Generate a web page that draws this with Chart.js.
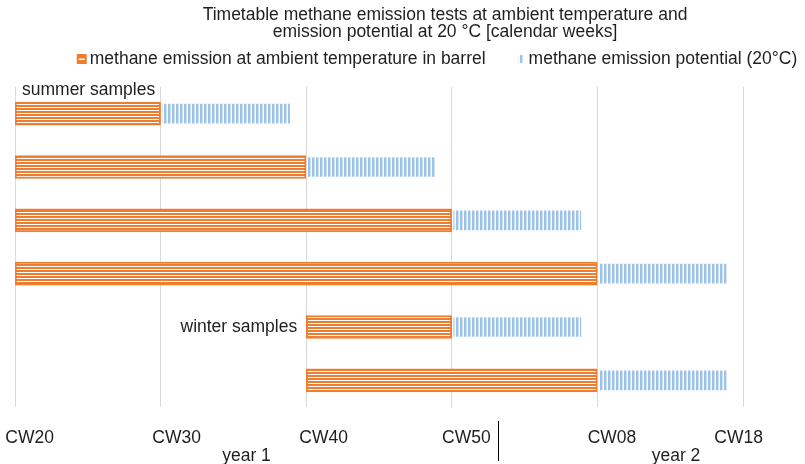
<!DOCTYPE html>
<html><head><meta charset="utf-8">
<script src="https://cdn.jsdelivr.net/npm/chart.js@4.4.1/dist/chart.umd.min.js"></script>
<style>html,body{margin:0;padding:0;background:#fff}#wrap{width:805px;height:464px;position:relative}</style>
</head><body><div id="wrap"><canvas id="c" width="805" height="464"></canvas></div>
<script>
// ---- data ----
const rows = ['summer 1','summer 2','summer 3','summer 4','winter 1','winter 2'];
const ambientStart = [20, 20, 20, 20, 40, 40];
const ambientEnd   = [30, 40, 50, 60, 50, 60];
const potentialStart = [30, 40, 50, 60, 50, 60];
const potentialEnd   = [39, 49, 59, 69, 59, 69];
const tickLabels = ['CW20','CW30','CW40','CW50','CW08','CW18'];
const tickLabelWeeks = [21.0, 31.1, 41.2, 51.0, 61.0, 69.7];
const yearLabels = ['year 1','year 2'];
const yearLabelWeeks = [35.9, 65.4];
const yearDividerWeek = 53.2;
const seriesNames = ['methane emission at ambient temperature in barrel','methane emission potential (20°C)'];
const titleLines = ['Timetable methane emission tests at ambient temperature and','emission potential at 20 °C [calendar weeks]'];
const noteSummer = 'summer samples';
const noteWinter = 'winter samples';

// ---- styles ----
const FONT = '"Liberation Sans", Arial, sans-serif';
const FS = 17.5;
const TXT = '#1f1f1f';
const ORANGE = '#ED7D31';

const canvas = document.getElementById('c');
const ctx0 = canvas.getContext('2d');
function makePattern(w, h, draw) {
  const c = document.createElement('canvas'); c.width = w; c.height = h;
  draw(c.getContext('2d'));
  return ctx0.createPattern(c, 'repeat');
}
const orangePat = makePattern(1, 3, g => {
  g.fillStyle = '#ffffff'; g.fillRect(0, 0, 1, 3);
  g.fillStyle = ORANGE; g.fillRect(0, 0, 1, 2);
});
const bluePat = makePattern(4, 1, g => {
  g.fillStyle = '#ffffff'; g.fillRect(0, 0, 4, 1);
  g.fillStyle = '#9DC3E6'; g.fillRect(0, 0, 2, 1);
  g.fillStyle = '#cfe2f3'; g.fillRect(2, 0, 1, 1);
});

const decor = {
  id: 'decor',
  afterDatasetsDraw(chart) {
    const ctx = chart.ctx, xs = chart.scales.x, ys = chart.scales.y;
    ctx.save();
    ctx.font = FS + 'px ' + FONT;
    ctx.textBaseline = 'middle';
    // summer note with white box
    const sx = xs.getPixelForValue(20);
    const sy = ys.getPixelForValue(0) - 23;
    const sw = ctx.measureText(noteSummer).width;
    ctx.fillStyle = '#fff';
    ctx.fillRect(sx + 1, sy - 11, sw + 9, 21);
    ctx.fillStyle = TXT;
    ctx.textAlign = 'left';
    ctx.fillText(noteSummer, sx + 7, sy);
    // winter note
    ctx.textAlign = 'right';
    ctx.fillText(noteWinter, xs.getPixelForValue(40) - 9, ys.getPixelForValue(4));
    ctx.restore();
  },
  afterDraw(chart) {
    const ctx = chart.ctx, xs = chart.scales.x, ca = chart.chartArea;
    ctx.save();
    ctx.font = FS + 'px ' + FONT;
    ctx.fillStyle = TXT;
    ctx.textBaseline = 'middle';
    ctx.textAlign = 'center';
    // title
    titleLines.forEach((t, i) => ctx.fillText(t, 445, 15 + i * 17.5));
    // legend
    const gap = 30, box = 10, tgap = 3;
    const w0 = ctx.measureText(seriesNames[0]).width, w1 = ctx.measureText(seriesNames[1]).width;
    const total = box + tgap + w0 + gap + box + tgap + w1;
    let x = 437 - total / 2; const ly = 59;
    chart.data.datasets.forEach((ds, i) => {
      if (i === 0) {
        ctx.fillStyle = ds.borderColor; ctx.fillRect(x, ly - 5, box, box);
        ctx.fillStyle = '#fff'; ctx.fillRect(x + 2, ly - 0.5, box - 4, 1.5);
      } else {
        ctx.fillStyle = ds.backgroundColor; ctx.fillRect(x + 3, ly - 4, 5, 8);
      }
      ctx.fillStyle = TXT; ctx.textAlign = 'left';
      ctx.fillText(seriesNames[i], x + box + tgap, ly);
      x += box + tgap + (i === 0 ? w0 : w1) + gap;
    });
    // year labels + divider
    ctx.textAlign = 'center';
    yearLabels.forEach((t, i) => ctx.fillText(t, xs.getPixelForValue(yearLabelWeeks[i]), ca.bottom + 49));
    const dx = Math.round(xs.getPixelForValue(yearDividerWeek)) + 0.5;
    ctx.strokeStyle = '#000'; ctx.lineWidth = 1;
    ctx.beginPath(); ctx.moveTo(dx, ca.bottom + 14); ctx.lineTo(dx, 461); ctx.stroke();
    ctx.restore();
  }
};

new Chart(canvas, {
  type: 'bar',
  data: {
    labels: rows,
    datasets: [
      { label: seriesNames[0], data: rows.map((_, i) => [ambientStart[i], ambientEnd[i]]),
        backgroundColor: orangePat, borderColor: ORANGE, borderWidth: 2, borderSkipped: false,
        grouped: false, barThickness: 23 },
      { label: seriesNames[1], data: rows.map((_, i) => [potentialStart[i], potentialEnd[i]]),
        backgroundColor: bluePat, borderColor: '#ffffff', borderWidth: 2, borderSkipped: false,
        grouped: false, barThickness: 23 }
    ]
  },
  options: {
    indexAxis: 'y', responsive: false, animation: false, devicePixelRatio: 1,
    layout: { padding: { left: 15, right: 62, top: 87, bottom: 16 } },
    scales: {
      y: { type: 'category', display: false },
      x: { type: 'linear', min: 20, max: 70, position: 'bottom',
           ticks: { display: false, stepSize: 10 },
           grid: { color: '#d9d9d9', lineWidth: 1, drawTicks: false },
           border: { display: false },
           afterFit: s => { s.height = 0; s.paddingLeft = 0; s.paddingRight = 0; } },
      x2: { type: 'linear', min: 20, max: 70, position: 'bottom',
            grid: { display: false, drawTicks: false }, border: { display: false },
            afterBuildTicks: s => { s.ticks = tickLabelWeeks.map(v => ({ value: v })); },
            afterFit: s => { s.height = 41; s.paddingLeft = 0; s.paddingRight = 0; },
            ticks: { autoSkip: false, maxRotation: 0, minRotation: 0, padding: 21, color: TXT,
                     font: { family: FONT, size: FS },
                     callback: (v, i) => tickLabels[i] } }
    },
    plugins: { legend: { display: false }, title: { display: false }, tooltip: { enabled: false } }
  },
  plugins: [decor]
});
</script>
</body></html>
